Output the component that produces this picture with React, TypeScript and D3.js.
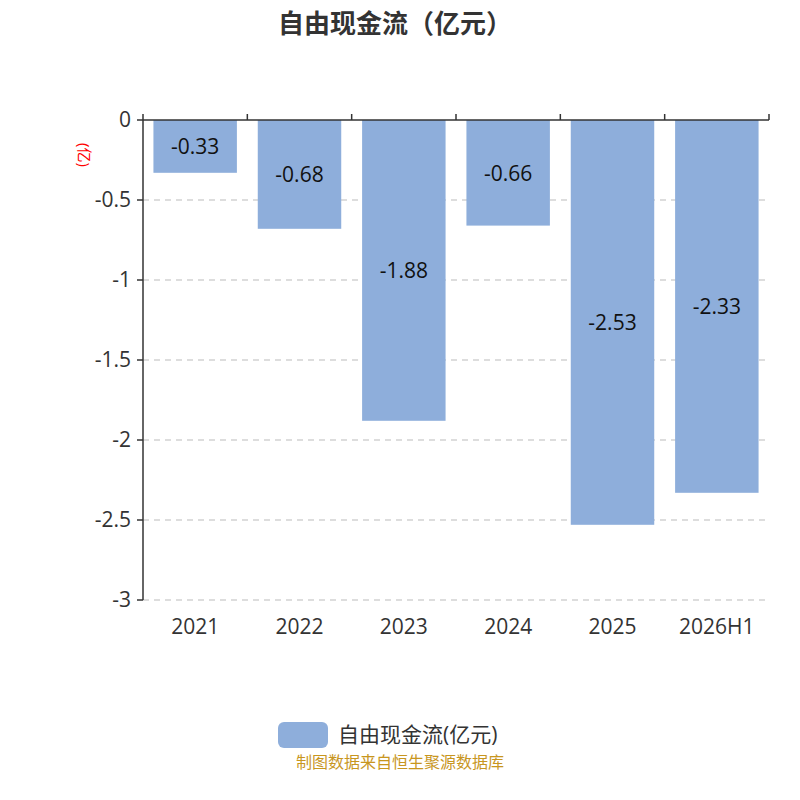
import * as d3 from 'd3'

const categories = ['2021', '2022', '2023', '2024', '2025', '2026H1']
const values = [-0.33, -0.68, -1.88, -0.66, -2.53, -2.33]
const yTicks = [0, -0.5, -1, -1.5, -2, -2.5, -3]
const title = '自由现金流（亿元）'
const seriesName = '自由现金流(亿元)'

const font = '"Open Sans", "Noto Sans CJK SC", sans-serif'
const barColor = '#8eaedb'

const App = () => {
  const left = 143, right = 769, top = 120, bottom = 600
  const x = d3.scaleBand().domain(categories).range([left, right]).paddingInner(0.2).paddingOuter(0.1)
  const xb = d3.scaleBand().domain(categories).range([left, right])
  const y = d3.scaleLinear().domain([0, -3]).range([top, bottom])

  return (
    <svg width={800} height={800} style={{ position: 'absolute', left: 0, top: 0, fontFamily: font }}>
      <rect width={800} height={800} fill="#fff" />
      <text x={395} y={33} textAnchor="middle" fontSize={26} fontWeight="bold" fill="#333">{title}</text>
      {yTicks.slice(1).map(t => (
        <line key={t} x1={left} x2={right} y1={y(t)} y2={y(t)} stroke="#bbb" strokeDasharray="6,5" />
      ))}
      {categories.map((c, i) => (
        <g key={c}>
          <rect x={x(c)} y={y(0)} width={x.bandwidth()} height={y(values[i]) - y(0)} fill={barColor} />
          <text x={x(c)! + x.bandwidth() / 2} y={(y(0) + y(values[i])) / 2 + 8} textAnchor="middle" fontSize={21} fill="#111">{values[i]}</text>
          <text x={xb(c)! + xb.bandwidth() / 2} y={634} textAnchor="middle" fontSize={21} fill="#333">{c}</text>
        </g>
      ))}
      <line x1={left} x2={right} y1={top} y2={top} stroke="#333" strokeWidth={1.5} />
      {categories.concat(['']).map((c, i) => {
        const xx = left + i * xb.bandwidth()
        return <line key={i} x1={xx} x2={xx} y1={top} y2={top - 6} stroke="#333" strokeWidth={1.5} />
      })}
      <line x1={left} x2={left} y1={top} y2={bottom} stroke="#333" strokeWidth={1.5} />
      {yTicks.map(t => (
        <g key={t}>
          <line x1={left - 6} x2={left} y1={y(t)} y2={y(t)} stroke="#333" strokeWidth={1.5} />
          <text x={left - 12} y={y(t) + 7} textAnchor="end" fontSize={21} fill="#333">{t}</text>
        </g>
      ))}
      <text transform="translate(79,155) rotate(90)" textAnchor="middle" fontSize={15} fill="red">(亿)</text>
      <rect x={278} y={722} width={50} height={26} rx={6} fill={barColor} />
      <text x={338} y={742} fontSize={21} fill="#333">{seriesName}</text>
      <text x={400} y={768} textAnchor="middle" fontSize={16} fill="#c8961e">制图数据来自恒生聚源数据库</text>
    </svg>
  )
}

export default App
